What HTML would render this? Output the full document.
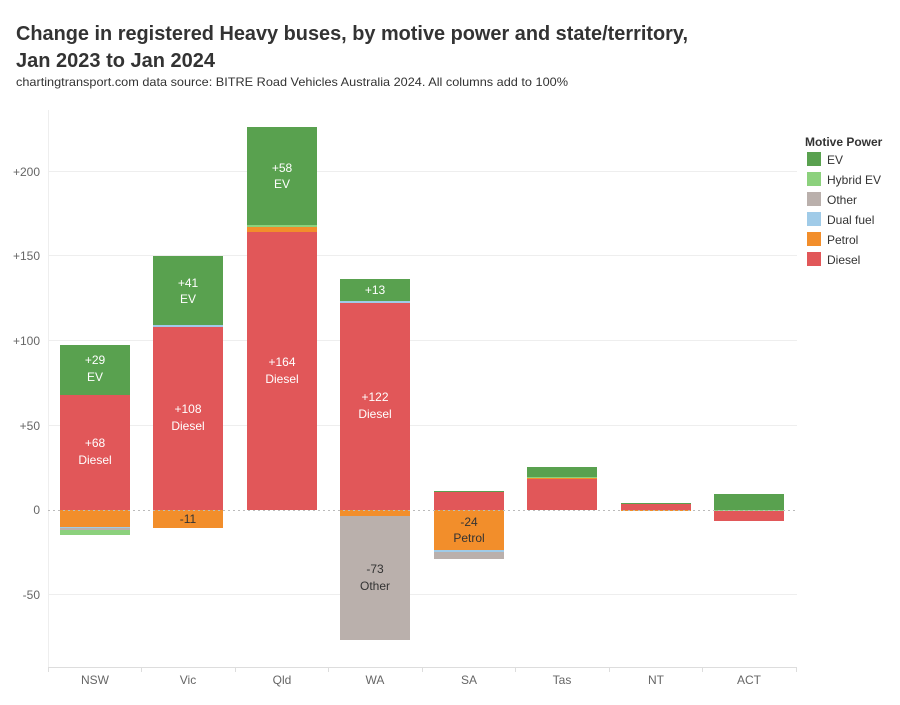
<!DOCTYPE html>
<html><head><meta charset="utf-8"><style>
body{margin:0;background:#fff;font-family:"Liberation Sans","DejaVu Sans",sans-serif;}
</style></head><body>
<svg width="900" height="700" xmlns="http://www.w3.org/2000/svg" font-family="Liberation Sans, DejaVu Sans, sans-serif">
<rect width="900" height="700" fill="#fff"/>
<text x="16" y="40" font-size="20" fill="#333" font-weight="bold" textLength="672" lengthAdjust="spacingAndGlyphs">Change in registered Heavy buses, by motive power and state/territory,</text>
<text x="16" y="67" font-size="20" fill="#333" font-weight="bold">Jan 2023 to Jan 2024</text>
<text x="16" y="86" font-size="12" fill="#333" textLength="552" lengthAdjust="spacingAndGlyphs">chartingtransport.com  data source: BITRE Road Vehicles Australia 2024. All columns add to 100%</text>
<g stroke="#eeeeee" stroke-width="1">
<line x1="48" x2="797" y1="171.5" y2="171.5"/><line x1="48" x2="797" y1="255.5" y2="255.5"/>
<line x1="48" x2="797" y1="340.5" y2="340.5"/><line x1="48" x2="797" y1="425.5" y2="425.5"/>
<line x1="48" x2="797" y1="594.5" y2="594.5"/>
<line x1="48.5" x2="48.5" y1="110" y2="667"/>
<line x1="48" x2="797" y1="667.5" y2="667.5" stroke="#ddd"/>
</g>
<g stroke="#ddd"><line x1="48.5" x2="48.5" y1="667" y2="672"/><line x1="141.5" x2="141.5" y1="667" y2="672"/><line x1="235.5" x2="235.5" y1="667" y2="672"/><line x1="328.5" x2="328.5" y1="667" y2="672"/><line x1="422.5" x2="422.5" y1="667" y2="672"/><line x1="515.5" x2="515.5" y1="667" y2="672"/><line x1="609.5" x2="609.5" y1="667" y2="672"/><line x1="702.5" x2="702.5" y1="667" y2="672"/><line x1="796.5" x2="796.5" y1="667" y2="672"/></g>
<g font-size="12" fill="#666" text-anchor="end">
<text x="40" y="176">+200</text><text x="40" y="260">+150</text><text x="40" y="345">+100</text><text x="40" y="430">+50</text><text x="40" y="514">0</text><text x="40" y="599">-50</text>
</g>
<g font-size="12" fill="#666" text-anchor="middle">
<text x="95" y="684">NSW</text><text x="188" y="684">Vic</text><text x="282" y="684">Qld</text><text x="375" y="684">WA</text><text x="469" y="684">SA</text><text x="562" y="684">Tas</text><text x="656" y="684">NT</text><text x="749" y="684">ACT</text>
</g>
<!-- NSW -->
<rect x="60" y="345" width="70" height="50" fill="#59a14f"/>
<rect x="60" y="395" width="70" height="115" fill="#e15759"/>
<rect x="60" y="510" width="70" height="17" fill="#f28e2b"/>
<rect x="60" y="527" width="70" height="1" fill="#a0cbe8"/>
<rect x="60" y="528" width="70" height="2" fill="#bab0ac"/>
<rect x="60" y="530" width="70" height="5" fill="#8cd17d"/>
<!-- Vic -->
<rect x="153" y="256" width="70" height="69" fill="#59a14f"/>
<rect x="153" y="325" width="70" height="2" fill="#a0cbe8"/>
<rect x="153" y="327" width="70" height="183" fill="#e15759"/>
<rect x="153" y="510" width="70" height="18" fill="#f28e2b"/>
<!-- Qld -->
<rect x="247" y="127" width="70" height="98" fill="#59a14f"/>
<rect x="247" y="225" width="70" height="2" fill="#8cd17d"/>
<rect x="247" y="227" width="70" height="5" fill="#f28e2b"/>
<rect x="247" y="232" width="70" height="278" fill="#e15759"/>
<!-- WA -->
<rect x="340" y="279" width="70" height="22" fill="#59a14f"/>
<rect x="340" y="301" width="70" height="2" fill="#a0cbe8"/>
<rect x="340" y="303" width="70" height="207" fill="#e15759"/>
<rect x="340" y="510" width="70" height="6" fill="#f28e2b"/>
<rect x="340" y="516" width="70" height="124" fill="#bab0ac"/>
<!-- SA -->
<rect x="434" y="491" width="70" height="1" fill="#59a14f"/>
<rect x="434" y="492" width="70" height="18" fill="#e15759"/>
<rect x="434" y="510" width="70" height="40" fill="#f28e2b"/>
<rect x="434" y="550" width="70" height="2" fill="#a0cbe8"/>
<rect x="434" y="552" width="70" height="7" fill="#bab0ac"/>
<!-- Tas -->
<rect x="527" y="467" width="70" height="10" fill="#59a14f"/>
<rect x="527" y="477" width="70" height="1" fill="#8cd17d"/>
<rect x="527" y="478" width="70" height="1" fill="#f28e2b"/>
<rect x="527" y="479" width="70" height="31" fill="#e15759"/>
<!-- NT -->
<rect x="621" y="503" width="70" height="1" fill="#59a14f"/>
<rect x="621" y="504" width="70" height="6" fill="#e15759"/>
<rect x="621" y="510" width="70" height="1" fill="#f28e2b"/>
<!-- ACT -->
<rect x="714" y="494" width="70" height="16" fill="#59a14f"/>
<rect x="714" y="510" width="70" height="1" fill="#8cd17d"/>
<rect x="714" y="511" width="70" height="10" fill="#e15759"/>
<line x1="48" x2="797" y1="510.5" y2="510.5" stroke="#bbb" stroke-dasharray="2,3"/>
<g font-size="12" fill="#fff" text-anchor="middle">
<text x="95" y="364">+29</text><text x="95" y="381">EV</text>
<text x="95" y="447">+68</text><text x="95" y="464">Diesel</text>
<text x="188" y="287">+41</text><text x="188" y="303">EV</text>
<text x="188" y="413">+108</text><text x="188" y="430">Diesel</text>
<text x="282" y="172">+58</text><text x="282" y="188">EV</text>
<text x="282" y="366">+164</text><text x="282" y="383">Diesel</text>
<text x="375" y="294">+13</text>
<text x="375" y="401">+122</text><text x="375" y="418">Diesel</text>
</g>
<g font-size="12" fill="#333" text-anchor="middle">
<text x="188" y="523">-11</text>
<text x="469" y="526">-24</text><text x="469" y="542">Petrol</text>
<text x="375" y="573">-73</text><text x="375" y="590">Other</text>
</g>
<text x="805" y="146" font-size="12" fill="#333" font-weight="bold">Motive Power</text>
<g font-size="12" fill="#333">
<rect x="807" y="152" width="14" height="14" fill="#59a14f"/><text x="827" y="164">EV</text>
<rect x="807" y="172" width="14" height="14" fill="#8cd17d"/><text x="827" y="184">Hybrid EV</text>
<rect x="807" y="192" width="14" height="14" fill="#bab0ac"/><text x="827" y="204">Other</text>
<rect x="807" y="212" width="14" height="14" fill="#a0cbe8"/><text x="827" y="224">Dual fuel</text>
<rect x="807" y="232" width="14" height="14" fill="#f28e2b"/><text x="827" y="244">Petrol</text>
<rect x="807" y="252" width="14" height="14" fill="#e15759"/><text x="827" y="264">Diesel</text>
</g>
</svg>
</body></html>
